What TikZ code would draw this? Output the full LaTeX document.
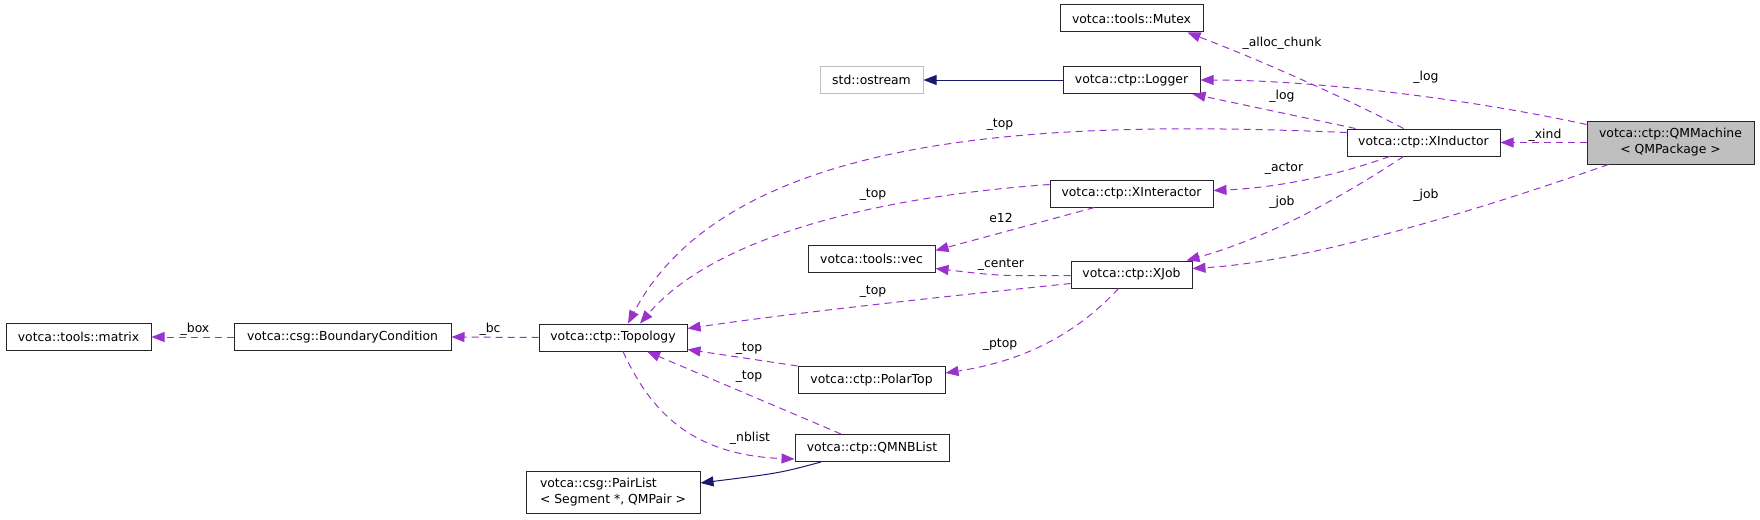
\documentclass[tikz,border=0pt]{standalone}
\usepackage{fontspec}
\setmainfont{DejaVu Sans}
\usepackage{xcolor}
\usetikzlibrary{arrows.meta, positioning}
\definecolor{useOrchid}{HTML}{9A32CD}
\definecolor{inheritNavy}{HTML}{191970}
\definecolor{greyLine}{HTML}{BFBFBF}

\begin{document}
\begin{tikzpicture}[
    x=1pt, y=-1pt,
    classnode/.style={rectangle, draw=black!85, line width=1pt, fill=white, inner sep=0pt, minimum height=27pt, font=\fontsize{12.4}{16}\selectfont},
    extnode/.style={classnode, draw=greyLine},
    focusnode/.style={classnode, fill=greyLine, minimum height=43pt, align=center},
    usage/.style={draw=useOrchid, line width=1pt, dash pattern=on 7pt off 5pt, -{Triangle[length=13pt,width=10pt]}},
    inherit/.style={draw=inheritNavy, line width=1pt, -{Triangle[length=13pt,width=10pt]}},
    lbl/.style={font=\fontsize{12.4}{16}\selectfont, inner sep=0pt}
  ]
    \useasboundingbox (0,0) rectangle (1760,519);

    % classes
    \node[classnode, minimum width=145pt] (tmatrix) at (78.5,337) {votca::tools::matrix};
    \node[classnode, minimum width=217pt] (bc) at (342.5,337) {votca::csg::BoundaryCondition};
    \node[classnode, minimum width=148pt] (topo) at (613,337.5) {votca::ctp::Topology};
    \node[classnode, minimum width=174pt, minimum height=42pt, align=left] (plist) at (613,492) {votca::csg::PairList\\\textless{} Segment *, QMPair \textgreater};
    \node[classnode, minimum width=154pt] (qmnb) at (872,448) {votca::ctp::QMNBList};
    \node[classnode, minimum width=147pt] (ptop) at (871.5,380) {votca::ctp::PolarTop};
    \node[classnode, minimum width=127pt] (vec) at (871.5,258.5) {votca::tools::vec};
    \node[classnode, minimum width=121pt] (xjob) at (1131.5,274.5) {votca::ctp::XJob};
    \node[classnode, minimum width=163pt] (xinter) at (1131.5,193.5) {votca::ctp::XInteractor};
    \node[classnode, minimum width=153pt] (xind) at (1423.5,142.5) {votca::ctp::XInductor};
    \node[focusnode, minimum width=167pt] (qmm) at (1670.5,142.5) {votca::ctp::QMMachine\\\textless{} QMPackage \textgreater};
    \node[classnode, minimum width=137pt] (logger) at (1131.5,80) {votca::ctp::Logger};
    \node[extnode, minimum width=103pt] (ostream) at (871.5,80) {std::ostream};
    \node[classnode, minimum width=143pt] (mutex) at (1131.5,18.5) {votca::tools::Mutex};

    % inheritance
    \path[inherit] (logger.west) -- (ostream.east);
    \path[inherit] ([xshift=-51pt]qmnb.south) .. controls (780,473) .. ([yshift=9pt]plist.east);

    % usage
    \path[usage] (qmm.west) -- (xind.east);
    \path[usage] ([yshift=-4pt]qmm.north west) .. controls (1450,95) and (1300,80) .. (logger.east);
    \path[usage] ([xshift=22pt]qmm.south west) .. controls (1450,220) and (1300,262) .. ([yshift=6pt]xjob.east);
    \path[usage] ([xshift=-20pt]xind.north) .. controls (1350,100) and (1260,60) .. ([xshift=-16pt]mutex.south east);
    \path[usage] ([xshift=9pt]xind.north west) -- ([xshift=-8pt]logger.south east);
    \path[usage] ([yshift=-4pt]xind.north west) .. controls (1050,120) and (730,130) .. ([xshift=15pt]topo.north);
    \path[usage] ([xshift=-34pt]xind.south) .. controls (1330,178) and (1270,188) .. ([yshift=3pt]xinter.east);
    \path[usage] ([xshift=-20pt]xind.south) .. controls (1330,205) and (1260,240) .. ([xshift=-6pt]xjob.north east);
    \path[usage] ([yshift=-5pt]xinter.north west) .. controls (900,195) and (720,230) .. ([xshift=27pt]topo.north);
    \path[usage] ([xshift=-37pt]xinter.south) -- ([yshift=8pt]vec.east);
    \path[usage] ([yshift=-1pt]xjob.west) .. controls (1000,276) .. ([yshift=-10pt]vec.east);
    \path[usage] ([yshift=-9pt]xjob.west) .. controls (950,296) and (800,312) .. ([yshift=9pt]topo.east);
    \path[usage] ([xshift=-13pt]xjob.south) .. controls (1080,330) and (1030,360) .. ([yshift=7pt]ptop.east);
    \path[usage] (ptop.north west) -- ([yshift=2pt]topo.south east);
    \path[usage] ([xshift=-31pt]qmnb.north) -- ([xshift=34pt]topo.south);
    \path[usage] ([xshift=10pt]topo.south) .. controls (650,410) and (690,455) .. ([yshift=3pt]qmnb.south west);
    \path[usage] (topo.west) -- (bc.east);
    \path[usage] (bc.west) -- (tmatrix.east);

    % member labels
    \node[lbl] (lbox) at (195,329) {\_box};
    \node[lbl] (lbc) at (490,329) {\_bc};
    \node[lbl] (ltop1) at (1000,125) {\_top};
    \node[lbl] (ltop2) at (873,195) {\_top};
    \node[lbl] (le12) at (1001,218) {e12};
    \node[lbl] (lcenter) at (1001,265) {\_center};
    \node[lbl] (ltop3) at (873,292) {\_top};
    \node[lbl] (lptop) at (1000,345) {\_ptop};
    \node[lbl] (ltop4) at (749,349) {\_top};
    \node[lbl] (ltop5) at (749,377) {\_top};
    \node[lbl] (lnblist) at (750,438) {\_nblist};
    \node[lbl] (lalloc) at (1282,43) {\_alloc\_chunk};
    \node[lbl] (llog1) at (1426,77) {\_log};
    \node[lbl] (llog2) at (1282,96) {\_log};
    \node[lbl] (lxind) at (1545,135) {\_xind};
    \node[lbl] (lactor) at (1284,169) {\_actor};
    \node[lbl] (ljob1) at (1282,202) {\_job};
    \node[lbl] (ljob2) at (1426,195) {\_job};
  \end{tikzpicture}
\end{document}
